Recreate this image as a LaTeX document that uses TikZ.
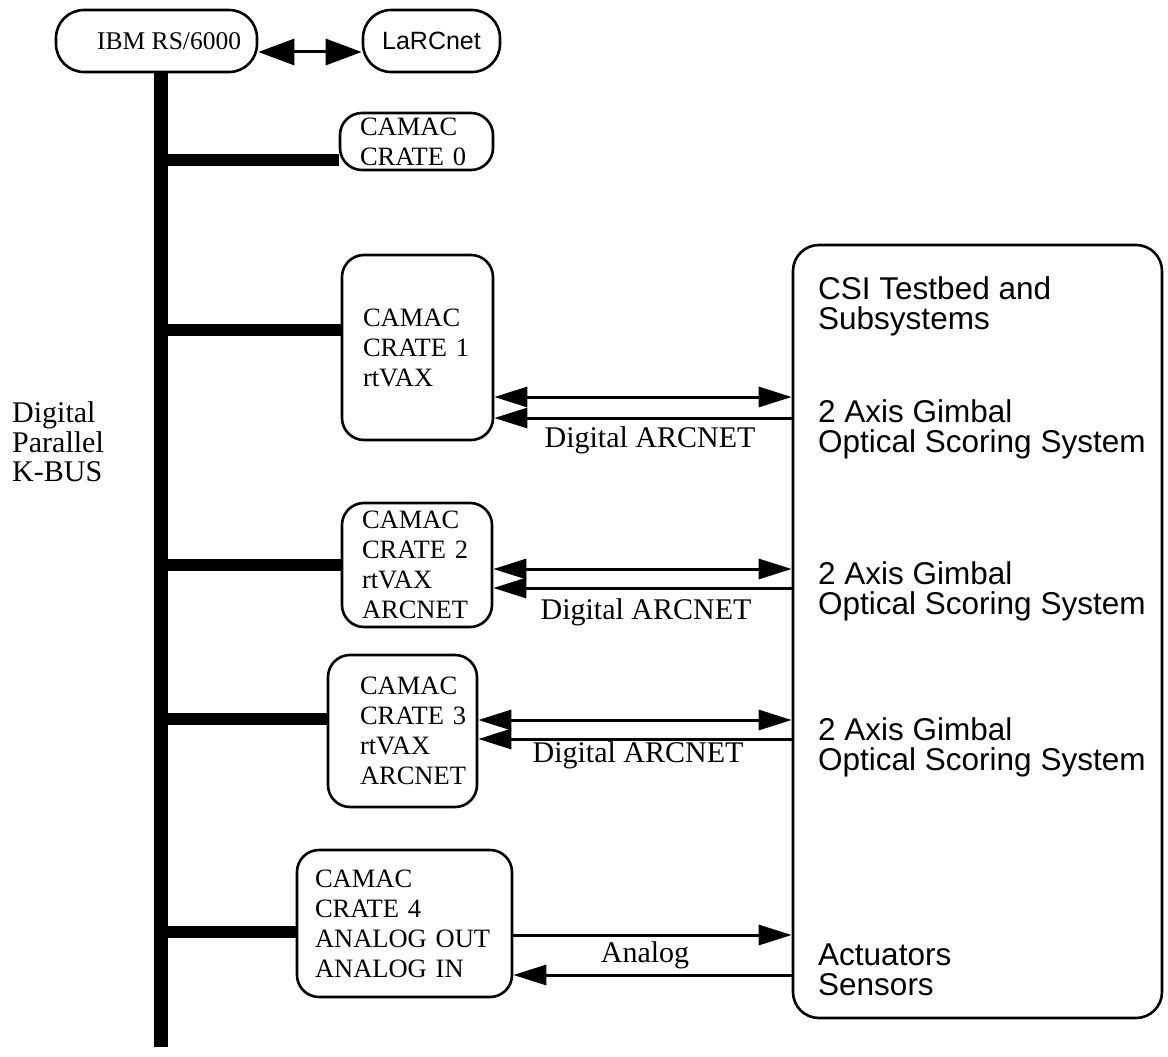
\documentclass[tikz,border=0pt]{standalone}
\usepackage{fontspec}
\setmainfont{Liberation Serif}
\newfontfamily\hv{Liberation Sans}
\usetikzlibrary{arrows.meta}
\begin{document}
\begin{tikzpicture}[x=1pt,y=-1pt,
  box/.style={draw, line width=2.6pt, rounded corners=22pt, inner sep=0pt},
  crate/.style={box, font=\fontsize{26.5}{30}\selectfont, align=left, inner ysep=0pt},
  lbl/.style={font=\fontsize{30}{29}\selectfont, inner sep=0pt},
  sans/.style={font=\hv\fontsize{31.5}{30}\selectfont, align=left, inner sep=0pt, anchor=west},
  bus/.style={line width=14pt},
  branch/.style={line width=12pt},
  link/.style={line width=3pt}
]
\useasboundingbox (0,0) rectangle (1168,1057);

% top boxes
\node[box, rounded corners=28pt, minimum width=201pt, minimum height=62pt] (ibm) at (156.5,41) {};
\node[anchor=west, inner sep=0pt, font=\fontsize{25.5}{28}\selectfont] (ibmtxt) at (97,41) {IBM RS/6000};
\node[box, rounded corners=28pt, minimum width=137pt, minimum height=62pt, font=\hv\fontsize{25}{28}\selectfont] (larc) at (431.5,41) {LaRCnet};

% helper coordinates
\coordinate (busx) at (161,0);
\coordinate (busend) at (161,1047);
\coordinate (y52) at (0,52);
\coordinate (b0) at (0,160);
\coordinate (b1) at (0,330);
\coordinate (b2) at (0,565);
\coordinate (b3) at (0,719);
\coordinate (b4) at (0,932);
\coordinate (a1t) at (0,397);
\coordinate (a1b) at (0,418);
\coordinate (a2t) at (0,569);
\coordinate (a2b) at (0,588);
\coordinate (a3t) at (0,720);
\coordinate (a3b) at (0,739);
\coordinate (a4t) at (0,935);
\coordinate (a4b) at (0,975);

% crates
\node[crate, minimum width=153pt, minimum height=57pt, text width=113pt, inner xsep=20pt] (c0) at (416.5,141.5) {CAMAC\\CRATE~0};
\node[crate, minimum width=151pt, minimum height=185pt, text width=109pt, inner xsep=21pt] (c1) at (417.5,347.5) {CAMAC\\CRATE~1\\rtVAX};
\node[crate, minimum width=150pt, minimum height=124pt, text width=110pt, inner xsep=20pt] (c2) at (417,565) {CAMAC\\CRATE~2\\rtVAX\\ARCNET};
\node[crate, minimum width=149pt, minimum height=152pt, text width=85pt, inner xsep=32pt] (c3) at (402.5,731) {CAMAC\\CRATE~3\\rtVAX\\ARCNET};
\node[crate, minimum width=215pt, minimum height=147pt, text width=179pt, inner xsep=18pt] (c4) at (404.5,923.5) {CAMAC\\CRATE~4\\ANALOG OUT\\ANALOG IN};

% right box
\node[box, rounded corners=26pt, minimum width=369pt, minimum height=773pt] (csi) at (977.5,631.5) {};
\node[sans] (t0) at (818,306) {CSI Testbed and\\Subsystems};
\node[sans] (t1) at (818,429) {2 Axis Gimbal\\Optical Scoring System};
\node[sans] (t2) at (818,591) {2 Axis Gimbal\\Optical Scoring System};
\node[sans] (t3) at (818,747) {2 Axis Gimbal\\Optical Scoring System};
\node[sans] (t4) at (818,970) {Actuators\\Sensors};

% bus label
\node[anchor=west, inner sep=0pt, align=left, font=\fontsize{30}{29.5}\selectfont] (kbus) at (12,442) {Digital\\Parallel\\K-BUS};

% bus and branches
\draw[bus] (ibm.south -| busx) -- (busend);
\draw[branch] (busx |- b0) -- (c0.west |- b0);
\draw[branch] (busx |- b1) -- (c1.west |- b1);
\draw[branch] (busx |- b2) -- (c2.west |- b2);
\draw[branch] (busx |- b3) -- (c3.west |- b3);
\draw[branch] (busx |- b4) -- (c4.west |- b4);

% top link
\draw[link, {Triangle[length=36pt,width=26pt]}-{Triangle[length=36pt,width=26pt]}] (ibm.east |- y52) -- (larc.west |- y52);

% crate links
\draw[link, {Triangle[length=33pt,width=20pt]}-{Triangle[length=33pt,width=20pt]}] (c1.east |- a1t) -- (csi.west |- a1t);
\draw[link, {Triangle[length=33pt,width=20pt]}-] (c1.east |- a1b) -- (csi.west |- a1b);
\draw[link, {Triangle[length=33pt,width=20pt]}-{Triangle[length=33pt,width=20pt]}] (c2.east |- a2t) -- (csi.west |- a2t);
\draw[link, {Triangle[length=33pt,width=20pt]}-] (c2.east |- a2b) -- (csi.west |- a2b);
\draw[link, {Triangle[length=33pt,width=20pt]}-{Triangle[length=33pt,width=20pt]}] (c3.east |- a3t) -- (csi.west |- a3t);
\draw[link, {Triangle[length=33pt,width=20pt]}-] (c3.east |- a3b) -- (csi.west |- a3b);
\draw[link, -{Triangle[length=33pt,width=20pt]}] (c4.east |- a4t) -- (csi.west |- a4t);
\draw[link, {Triangle[length=33pt,width=20pt]}-] (c4.east |- a4b) -- (csi.west |- a4b);

% link labels
\node[lbl] (l1) at (650,440) {Digital ARCNET};
\node[lbl] (l2) at (646,612) {Digital ARCNET};
\node[lbl] (l3) at (638,755) {Digital ARCNET};
\node[lbl] (l4) at (645,955) {Analog};
\end{tikzpicture}
\end{document}
